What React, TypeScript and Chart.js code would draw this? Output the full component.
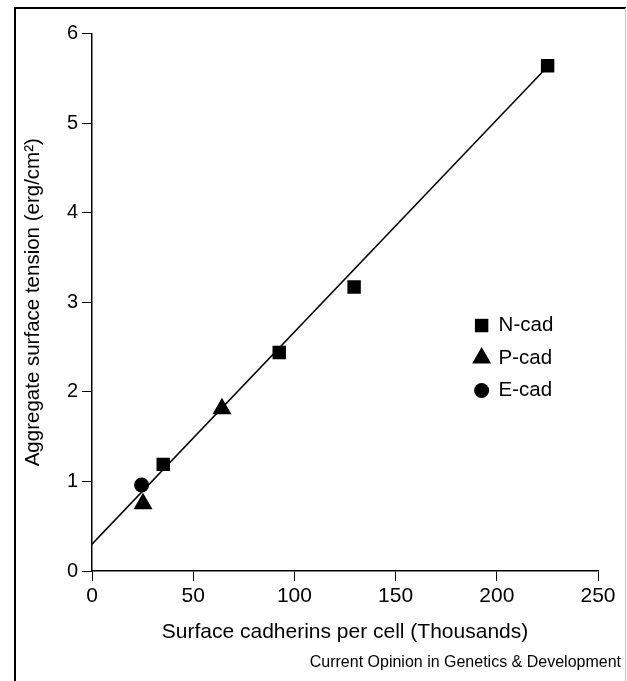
import React, { useEffect, useRef } from "react";
import { Chart, registerables } from "chart.js";
import { drawPoint } from "chart.js/helpers";

Chart.register(...registerables);

// ---- data ----
const nCadX = [35.2, 92.5, 129.5, 225.1];
const nCadY = [1.19, 2.44, 3.17, 5.64];
const pCadX = [25.2, 64.2];
const pCadY = [0.75, 1.81];
const eCadX = [24.5];
const eCadY = [0.96];
const fitX = [0, 225];
const fitY = [0.3, 5.63];

const seriesLabels = ["N-cad", "P-cad", "E-cad"];
const xTickValues = [0, 50, 100, 150, 200, 250];
const yTickValues = [0, 1, 2, 3, 4, 5, 6];
const xTitle = "Surface cadherins per cell (Thousands)";
const yTitle = "Aggregate surface tension (erg/cm\u00B2)";
const credit = "Current Opinion in Genetics & Development";

const FONT = '"Liberation Sans", Arial, Helvetica, sans-serif';

const toPts = (xs: number[], ys: number[]) => xs.map((x, i) => ({ x, y: ys[i] }));

export default function App() {
  const ref = useRef<HTMLCanvasElement>(null);

  useEffect(() => {
    const canvas = ref.current;
    if (!canvas) return;

    const framePlugin = {
      id: "frameAndCredit",
      afterDraw(chart: any) {
        const ctx = chart.ctx;
        ctx.save();
        ctx.font = `16px ${FONT}`;
        ctx.fillStyle = "#000";
        ctx.textAlign = "right";
        ctx.textBaseline = "middle";
        ctx.fillText(credit, 621, 663);
        ctx.strokeStyle = "#000";
        ctx.lineWidth = 2;
        ctx.beginPath();
        ctx.moveTo(15, 681);
        ctx.lineTo(15, 8);
        ctx.lineTo(626, 8);
        ctx.stroke();
        ctx.strokeStyle = "#c8c8c8";
        ctx.lineWidth = 1;
        ctx.beginPath();
        ctx.moveTo(625.5, 8);
        ctx.lineTo(625.5, 681);
        ctx.stroke();
        ctx.restore();
      },
    };

    const legendPlugin = {
      id: "insideLegend",
      afterDatasetsDraw(chart: any) {
        const ctx = chart.ctx;
        const xs = chart.scales.x;
        const ys = chart.scales.y;
        const mx = xs.getPixelForValue(192.5);
        const tx = mx + 17;
        let y = ys.getPixelForValue(2.74);
        ctx.save();
        ctx.font = `20.5px ${FONT}`;
        ctx.textAlign = "left";
        ctx.textBaseline = "middle";
        chart.data.datasets.forEach((ds: any) => {
          if (!ds.legendItem) return;
          ctx.fillStyle = "#000";
          ctx.strokeStyle = "#000";
          drawPoint(ctx, { pointStyle: ds.pointStyle, radius: ds.pointRadius, rotation: 0, borderWidth: 0 }, mx, y);
          ctx.fillStyle = "#000";
          ctx.fillText(ds.label, tx, y);
          y += 32.5;
        });
        ctx.restore();
      },
    };

    const chart = new Chart(canvas, {
      type: "scatter",
      data: {
        datasets: [
          {
            label: seriesLabels[0],
            data: toPts(nCadX, nCadY),
            pointStyle: "rect",
            pointRadius: 9.5,
            backgroundColor: "#000",
            borderWidth: 0,
            legendItem: true,
          } as any,
          {
            label: seriesLabels[1],
            data: toPts(pCadX, pCadY),
            pointStyle: "triangle",
            pointRadius: 11,
            backgroundColor: "#000",
            borderWidth: 0,
            legendItem: true,
          } as any,
          {
            label: seriesLabels[2],
            data: toPts(eCadX, eCadY),
            pointStyle: "circle",
            pointRadius: 7.5,
            backgroundColor: "#000",
            borderWidth: 0,
            legendItem: true,
          } as any,
          {
            type: "line",
            label: "fit",
            data: toPts(fitX, fitY),
            showLine: true,
            pointRadius: 0,
            borderColor: "#000",
            borderWidth: 1.5,
            fill: false,
            order: 10,
          } as any,
        ],
      },
      options: {
        animation: false,
        responsive: false,
        devicePixelRatio: 1,
        layout: { padding: { left: 0, top: 33.5, right: 29, bottom: 0 } },
        plugins: {
          legend: { display: false },
          tooltip: { enabled: false },
        },
        scales: {
          x: {
            type: "linear",
            min: 0,
            max: 250,
            afterBuildTicks: (s: any) => {
              s.ticks = xTickValues.map((v) => ({ value: v }));
            },
            afterFit: (s: any) => {
              s.height = 110;
            },
            ticks: {
              color: "#000",
              font: { family: FONT, size: 21 },
              padding: 3,
              maxRotation: 0,
            },
            grid: {
              display: true,
              drawOnChartArea: false,
              drawTicks: true,
              tickLength: 10,
              color: "#000",
              lineWidth: 1,
            },
            border: { display: true, color: "#000", width: 1.5 },
            title: {
              display: true,
              text: xTitle,
              color: "#000",
              font: { family: FONT, size: 21 },
              padding: { top: 0, bottom: 36 },
            },
          },
          y: {
            type: "linear",
            min: 0,
            max: 6,
            afterBuildTicks: (s: any) => {
              s.ticks = yTickValues.map((v) => ({ value: v }));
            },
            afterFit: (s: any) => {
              s.width = 92;
            },
            ticks: {
              color: "#000",
              font: { family: FONT, size: 20 },
              padding: 4,
            },
            grid: {
              display: true,
              drawOnChartArea: false,
              drawTicks: true,
              tickLength: 10,
              color: "#000",
              lineWidth: 1,
            },
            border: { display: true, color: "#000", width: 1.5 },
            title: {
              display: true,
              text: yTitle,
              color: "#000",
              font: { family: FONT, size: 20.5 },
              padding: { top: 21, bottom: 0 },
            },
          },
        },
      },
      plugins: [legendPlugin, framePlugin],
    } as any);

    return () => chart.destroy();
  }, []);

  return (
    <div style={{ position: "absolute", left: 0, top: 0, width: 627, height: 681, background: "#fff" }}>
      <canvas ref={ref} width={627} height={681} style={{ width: 627, height: 681, display: "block" }} />
    </div>
  );
}
